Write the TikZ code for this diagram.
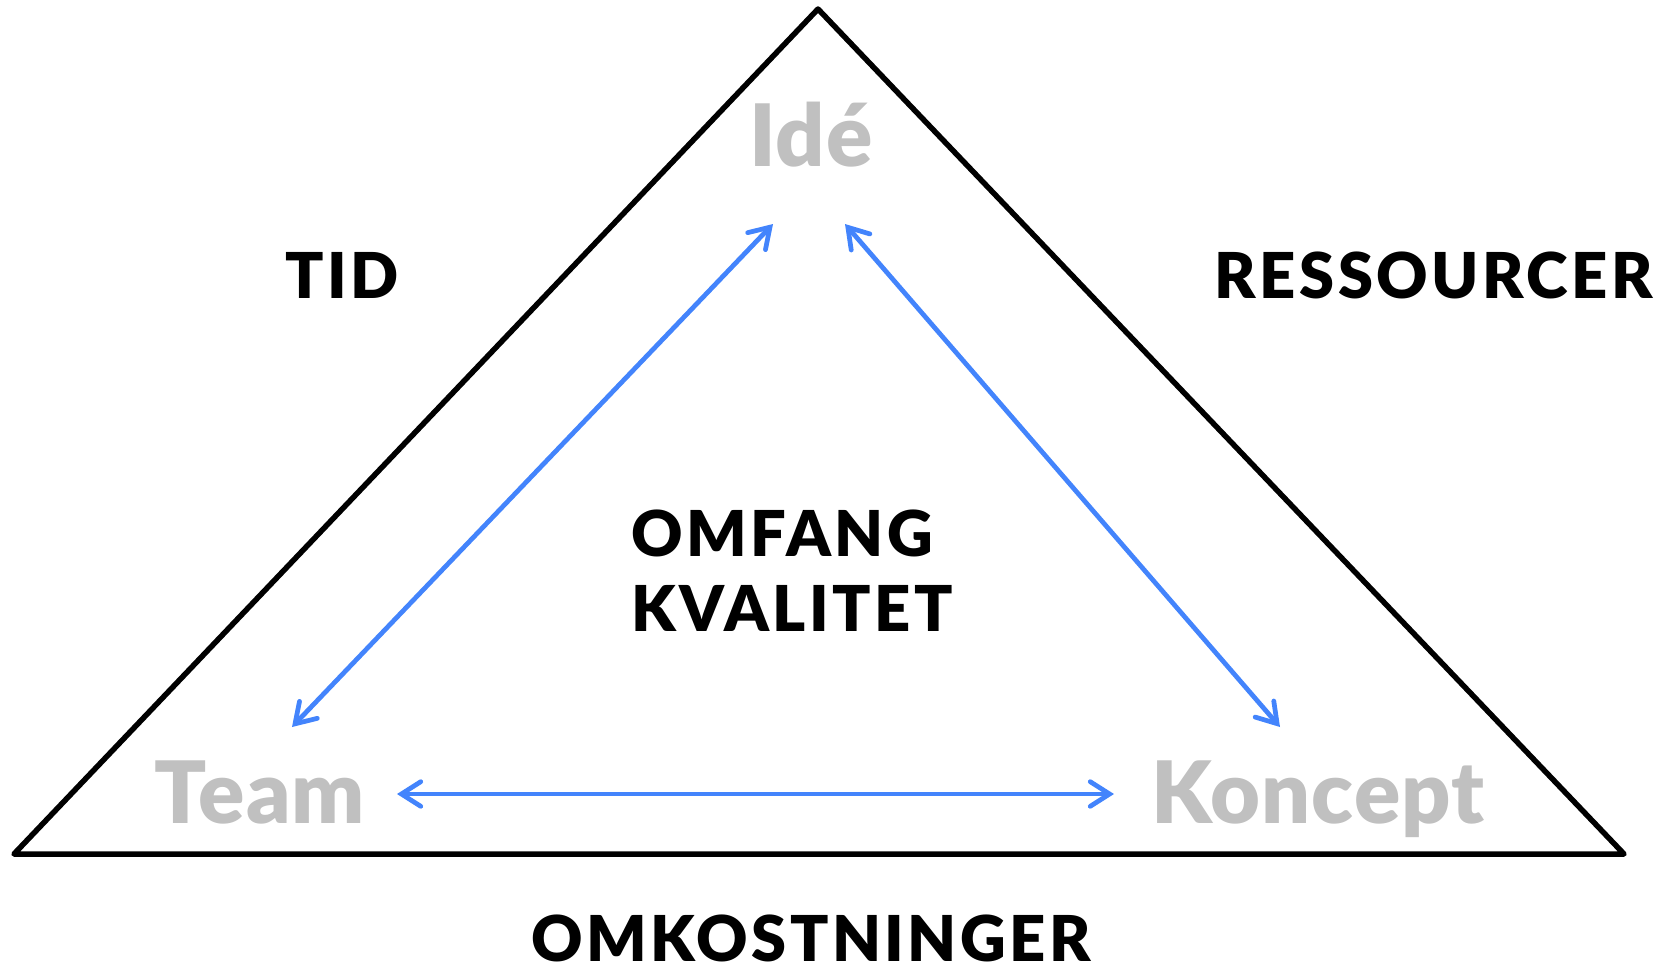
\documentclass[tikz,border=0pt]{standalone}
\usepackage{fontspec}
\setmainfont{Lato}[BoldFont={Lato Black}]
\usetikzlibrary{arrows.meta}
\definecolor{pilblaa}{HTML}{4384FC}
\definecolor{lysgraa}{HTML}{C0C0C0}

\begin{document}
\begin{tikzpicture}[x=0.02cm, y=-0.02cm,
  hjoerne/.style={font=\fontsize{49}{49}\selectfont\bfseries\addfontfeatures{LetterSpace=1.5}, text=lysgraa, inner sep=0pt},
  side/.style={font=\fontsize{36}{36}\selectfont\bfseries\addfontfeatures{LetterSpace=5.5}, inner sep=0pt},
  pil/.style={pilblaa, line width=0.095cm, line cap=round,
    {Straight Barb[length=11pt, width=14pt, line cap=round]}-{Straight Barb[length=11pt, width=14pt, line cap=round]}}]
  \useasboundingbox (0,0) rectangle (1671,971);

  % trekanten
  \draw[line width=0.11cm, line join=round, line cap=round] (818,9) -- (1624,854) -- (14,854) -- cycle;

  \node[hjoerne, anchor=base] (ide) at (811,166) {Idé};
  \node[hjoerne, anchor=base] (team) at (260,823) {Team};
  \node[hjoerne, anchor=base] (koncept) at (1318,823) {Koncept};

  \node[side, anchor=base] (tid) at (342,298) {TID};
  \node[side, anchor=base] (ressourcer) at (1434,298) {RESSOURCER};
  \node[side, anchor=base west] (omfang) at (631,556) {OMFANG};
  \node[side, anchor=base west] (kvalitet) at (631,631) {KVALITET};
  \node[side, anchor=base] (omkostninger) at (811,961) {OMKOSTNINGER};

  \coordinate (ideV) at (773,224);
  \coordinate (ideH) at (845,224);
  \coordinate (teamO) at (292,727);
  \coordinate (teamH) at (397,794);
  \coordinate (konceptO) at (1280,727);
  \coordinate (konceptV) at (1114,794);

  \draw[pil] (ideV) -- (teamO);
  \draw[pil] (ideH) -- (konceptO);
  \draw[pil] (teamH) -- (konceptV);
\end{tikzpicture}
\end{document}
